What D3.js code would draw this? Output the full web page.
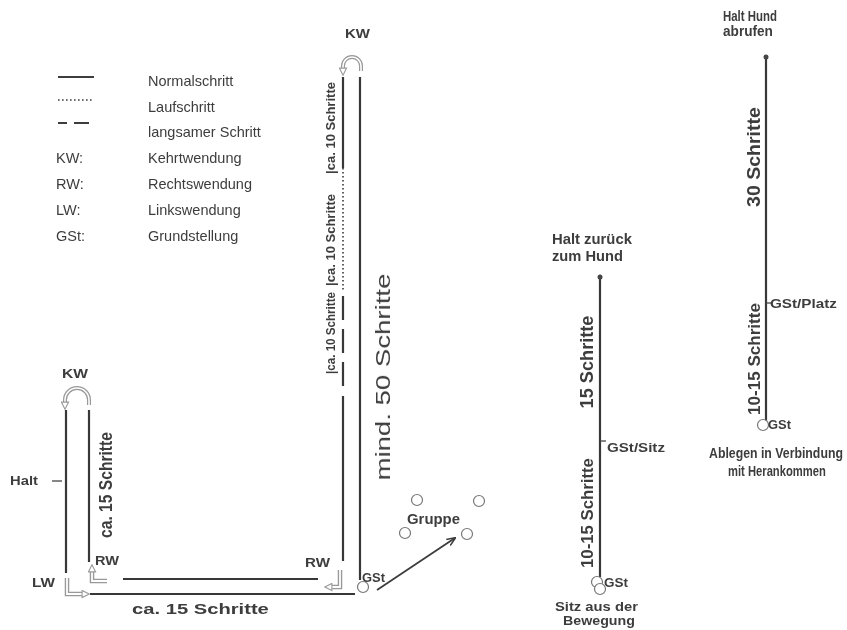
<!DOCTYPE html>
<html lang="de">
<head>
<meta charset="UTF-8">
<style>
    body {margin: 0; background: #ffffff;}
    svg text {font-family: "Liberation Sans", Arial, sans-serif; fill: #3d3d3d;}
</style>
</head>
<body>
<div id="plan"></div>
<script src="https://d3js.org/d3.v7.min.js"></script>
<script>

// legend
var legendeGang = ["Normalschritt", "Laufschritt", "langsamer Schritt"];
var legendeGangTyp = ["normal", "lauf", "langsam"];
var legendeKurz = ["KW:", "RW:", "LW:", "GSt:"];
var legendeLang = ["Kehrtwendung", "Rechtswendung", "Linkswendung", "Grundstellung"];

// course, in picture units (0..847 x 0..630)
var strecken = [
    {x1: 343, y1: 77,  x2: 343, y2: 168, gang: "normal"},
    {x1: 343, y1: 168, x2: 343, y2: 292, gang: "lauf"},
    {x1: 343, y1: 296, x2: 343, y2: 392, gang: "langsam"},
    {x1: 343, y1: 396, x2: 343, y2: 561, gang: "normal"},
    {x1: 360, y1: 77,  x2: 360, y2: 580, gang: "normal"},
    {x1: 318, y1: 579, x2: 123, y2: 579, gang: "normal"},
    {x1: 90,  y1: 594, x2: 355, y2: 594, gang: "normal"},
    {x1: 89,  y1: 562, x2: 89,  y2: 410, gang: "normal"},
    {x1: 66,  y1: 410, x2: 66,  y2: 573, gang: "normal"},
    {x1: 600, y1: 277, x2: 600, y2: 577, gang: "normal"},
    {x1: 766, y1: 57,  x2: 766, y2: 421, gang: "normal"}
];
var marken = [
    {x1: 52,  y1: 481, x2: 62,  y2: 481},
    {x1: 600, y1: 441, x2: 606, y2: 441},
    {x1: 766, y1: 303, x2: 772, y2: 303}
];
var endpunkte = [{x: 600, y: 277}, {x: 766, y: 57}];
var kreise = [
    {x: 363, y: 587}, {x: 417, y: 500}, {x: 479, y: 501}, {x: 405, y: 533},
    {x: 467, y: 534}, {x: 597, y: 582}, {x: 600, y: 589}, {x: 763, y: 425}
];
var pfeil = {x1: 377, y1: 590, x2: 455, y2: 538};

// turns
var kehrt = [{cx: 352, cy: 66, r: 9}, {cx: 77, cy: 400, r: 12}];
var wendungen = [
    [[340, 570], [340, 587], [331, 587]],
    [[107, 581], [92, 581], [92, 571]],
    [[67, 578], [67, 594], [83, 594]]
];

// texts
var beschriftung = [
    {t: "KW", x: 345, y: 38, len: 25, art: "marke"},
    {t: "KW", x: 62, y: 378, len: 26, art: "marke"},
    {t: "Halt", x: 10, y: 485, len: 28, art: "marke"},
    {t: "RW", x: 95, y: 565, len: 24, art: "marke"},
    {t: "LW", x: 32, y: 587, len: 23, art: "marke"},
    {t: "RW", x: 305, y: 567, len: 25, art: "marke"},
    {t: "GSt", x: 362, y: 582, len: 23, art: "marke"},
    {t: "Gruppe", x: 407, y: 524, len: 53, art: "fett"},
    {t: "ca.  15 Schritte", x: 132, y: 614, len: 137, art: "fett"},
    {t: "Halt zurück", x: 552, y: 244, len: 80, art: "fett"},
    {t: "zum Hund", x: 552, y: 261, len: 71, art: "fett"},
    {t: "GSt/Sitz", x: 607, y: 452, len: 58, art: "marke"},
    {t: "GSt", x: 604, y: 587, len: 24, art: "marke"},
    {t: "Sitz aus der", x: 555, y: 611, len: 83, art: "klein"},
    {t: "Bewegung", x: 563, y: 625, len: 72, art: "klein"},
    {t: "Halt Hund", x: 723, y: 21, len: 54, art: "fett"},
    {t: "abrufen", x: 723, y: 36, len: 50, art: "fett"},
    {t: "GSt/Platz", x: 770, y: 308, len: 67, art: "marke"},
    {t: "GSt", x: 768, y: 429, len: 23, art: "marke"},
    {t: "Ablegen in Verbindung", x: 709, y: 458, len: 134, art: "fett"},
    {t: "mit Herankommen", x: 728, y: 476, len: 98, art: "fett"}
];
var senkrecht = [
    {t: "|ca. 10 Schritte", x: 335, y: 128, len: 92, art: "klein"},
    {t: "|ca. 10 Schritte", x: 335, y: 240, len: 92, art: "klein"},
    {t: "|ca. 10 Schritte", x: 335, y: 333, len: 82, art: "klein"},
    {t: "mind. 50 Schritte", x: 390, y: 377, len: 207, art: "riesig"},
    {t: "ca. 15 Schritte", x: 112, y: 485, len: 106, art: "gross"},
    {t: "15 Schritte", x: 593, y: 362, len: 93, art: "gross"},
    {t: "10-15 Schritte", x: 593, y: 513, len: 110, art: "mittel"},
    {t: "30 Schritte", x: 760, y: 157, len: 100, art: "gross"},
    {t: "10-15 Schritte", x: 760, y: 359, len: 112, art: "mittel"}
];

var schrift = {
    marke:  {size: 13, weight: "bold"},
    fett:   {size: 14, weight: "bold"},
    klein:  {size: 13, weight: "bold"},
    mittel: {size: 16, weight: "bold"},
    gross:  {size: 18, weight: "bold"},
    riesig: {size: 21, weight: "normal"}
};
var strich = {normal: null, lauf: "1.6,2.4", langsam: "24,9"};

var width = 847, height = 630;
var x = d3.scaleLinear().domain([0, 847]).range([0, width]);
var y = d3.scaleLinear().domain([0, 630]).range([0, height]);

var svg = d3.select("#plan").append("svg")
    .attr("width", width)
    .attr("height", height);

var defs = svg.append("defs");
defs.append("filter").attr("id", "scan")
    .append("feGaussianBlur").attr("stdDeviation", 0.35);
defs.append("marker")
    .attr("id", "spitze")
    .attr("viewBox", "0 0 10 10")
    .attr("refX", 9).attr("refY", 5)
    .attr("markerWidth", 9).attr("markerHeight", 9)
    .attr("markerUnits", "userSpaceOnUse")
    .attr("orient", "auto")
    .append("path").attr("d", "M0,1 L10,5 L0,9").attr("fill", "none")
    .attr("stroke", "#3d3d3d").attr("stroke-width", 1.6);
defs.append("marker")
    .attr("id", "hohl")
    .attr("viewBox", "0 0 10 10")
    .attr("refX", 2).attr("refY", 5)
    .attr("markerWidth", 9).attr("markerHeight", 9)
    .attr("markerUnits", "userSpaceOnUse")
    .attr("orient", "auto")
    .append("path").attr("d", "M1,1 L9,5 L1,9 Z").attr("fill", "#fff")
    .attr("stroke", "#999").attr("stroke-width", 1.2);

svg.append("rect").attr("width", width).attr("height", height).attr("fill", "#fff");
var g = svg.append("g").attr("filter", "url(#scan)");

// legend
var leg = g.append("g");
legendeGangTyp.forEach(function (typ, i) {
    leg.append("line")
        .attr("x1", x(58)).attr("x2", x(94))
        .attr("y1", y(77 + i * 23)).attr("y2", y(77 + i * 23))
        .attr("stroke", "#3d3d3d")
        .attr("stroke-width", typ == "lauf" ? 1.6 : 2)
        .attr("stroke-dasharray", typ == "langsam" ? "9,7,15" : strich[typ]);
});
leg.selectAll(".gang").data(legendeGang).enter().append("text")
    .attr("x", x(148)).attr("y", function (d, i) { return y(86 + i * 25.5); })
    .attr("font-size", 14.5)
    .text(function (d) { return d; });
leg.selectAll(".kurz").data(legendeKurz).enter().append("text")
    .attr("x", x(56)).attr("y", function (d, i) { return y(163 + i * 26); })
    .attr("font-size", 14.5)
    .text(function (d) { return d; });
leg.selectAll(".lang").data(legendeLang).enter().append("text")
    .attr("x", x(148)).attr("y", function (d, i) { return y(163 + i * 26); })
    .attr("font-size", 14.5)
    .text(function (d) { return d; });

// course lines
g.selectAll(".strecke").data(strecken).enter().append("line")
    .attr("x1", function (d) { return x(d.x1); })
    .attr("y1", function (d) { return y(d.y1); })
    .attr("x2", function (d) { return x(d.x2); })
    .attr("y2", function (d) { return y(d.y2); })
    .attr("stroke", "#383838")
    .attr("stroke-width", function (d) { return d.gang == "lauf" ? 1.6 : 2.2; })
    .attr("stroke-dasharray", function (d) { return strich[d.gang]; });

g.selectAll(".marke").data(marken).enter().append("line")
    .attr("x1", function (d) { return x(d.x1); })
    .attr("y1", function (d) { return y(d.y1); })
    .attr("x2", function (d) { return x(d.x2); })
    .attr("y2", function (d) { return y(d.y2); })
    .attr("stroke", "#444").attr("stroke-width", 1.3);

g.selectAll(".punkt").data(endpunkte).enter().append("circle")
    .attr("cx", function (d) { return x(d.x); })
    .attr("cy", function (d) { return y(d.y); })
    .attr("r", 2.5).attr("fill", "#444");

g.selectAll(".kreis").data(kreise).enter().append("circle")
    .attr("cx", function (d) { return x(d.x); })
    .attr("cy", function (d) { return y(d.y); })
    .attr("r", 5.5)
    .attr("fill", "#fff").attr("stroke", "#777").attr("stroke-width", 1.2);

g.append("line")
    .attr("x1", x(pfeil.x1)).attr("y1", y(pfeil.y1))
    .attr("x2", x(pfeil.x2)).attr("y2", y(pfeil.y2))
    .attr("stroke", "#3d3d3d").attr("stroke-width", 1.8)
    .attr("marker-end", "url(#spitze)");

// Kehrtwendung
kehrt.forEach(function (k) {
    var p = d3.path();
    p.moveTo(x(k.cx + k.r), y(k.cy + 5));
    p.lineTo(x(k.cx + k.r), y(k.cy));
    p.arc(x(k.cx), y(k.cy), k.r, 0, -Math.PI, true);
    p.lineTo(x(k.cx - k.r), y(k.cy + 3));
    g.append("path").attr("d", p.toString())
        .attr("fill", "none").attr("stroke", "#999").attr("stroke-width", 4);
    g.append("path").attr("d", p.toString())
        .attr("fill", "none").attr("stroke", "#fff").attr("stroke-width", 1.6)
        .attr("marker-end", "url(#hohl)");
});

// Rechts-/Linkswendung
var linie = d3.line()
    .x(function (d) { return x(d[0]); })
    .y(function (d) { return y(d[1]); });
wendungen.forEach(function (w) {
    g.append("path").attr("d", linie(w))
        .attr("fill", "none").attr("stroke", "#999").attr("stroke-width", 4.5);
    g.append("path").attr("d", linie(w))
        .attr("fill", "none").attr("stroke", "#fff").attr("stroke-width", 1.8)
        .attr("marker-end", "url(#hohl)");
});

// texts: squeeze every label to the width it has in the scan
function setze(sel, drehen) {
    sel.each(function (d) {
        var natur = this.getComputedTextLength();
        var sx = natur > 0 ? d.len / natur : 1;
        d3.select(this).attr("transform",
            "translate(" + x(d.x) + "," + y(d.y) + ")" +
            (drehen ? " rotate(-90)" : "") +
            " scale(" + sx.toFixed(3) + ",1)");
    });
}

g.selectAll(".text").data(beschriftung).enter().append("text")
    .attr("font-size", function (d) { return schrift[d.art].size; })
    .attr("font-weight", function (d) { return schrift[d.art].weight; })
    .text(function (d) { return d.t; })
    .call(setze, false);

g.selectAll(".senk").data(senkrecht).enter().append("text")
    .attr("text-anchor", "middle")
    .attr("font-size", function (d) { return schrift[d.art].size; })
    .attr("font-weight", function (d) { return schrift[d.art].weight; })
    .text(function (d) { return d.t; })
    .call(setze, true);

</script>
</body>
</html>
